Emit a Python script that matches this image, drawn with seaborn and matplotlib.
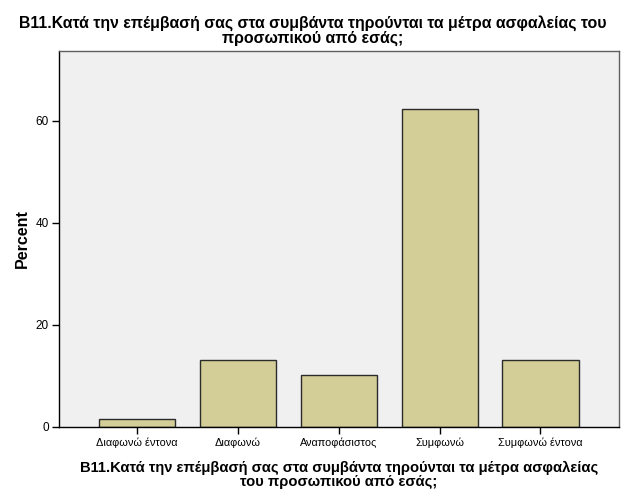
import pandas as pd
import matplotlib
matplotlib.use("Agg")
import matplotlib.pyplot as plt
import seaborn as sns

# --- data ---
categories = ["Διαφωνώ έντονα", "Διαφωνώ", "Αναποφάσιστος", "Συμφωνώ", "Συμφωνώ έντονα"]
percent = [1.6, 13.1, 10.2, 62.3, 13.1]
y_ticks = [0, 20, 40, 60]

title_text = "B11.Κατά την επέμβασή σας στα συμβάντα τηρούνται τα μέτρα ασφαλείας του\nπροσωπικού από εσάς;"
xlabel_text = "B11.Κατά την επέμβασή σας στα συμβάντα τηρούνται τα μέτρα ασφαλείας\nτου προσωπικού από εσάς;"

df = pd.DataFrame({"category": categories, "percent": percent})

sns.set_style("white")
plt.rcParams["font.family"] = ["Liberation Sans", "DejaVu Sans"]
plt.rcParams["text.color"] = "black"
plt.rcParams["axes.labelcolor"] = "black"
plt.rcParams["xtick.color"] = "black"
plt.rcParams["ytick.color"] = "black"

fig = plt.figure(figsize=(6.26, 5.01), dpi=100)
ax = fig.add_axes([0.0935, 0.1483, 0.8955, 0.7497])
ax.set_facecolor("#f0f0f0")

sns.barplot(data=df, x="category", y="percent", color="#d3ce98", saturation=1,
            width=0.755, edgecolor="#2b2b2b", linewidth=1.0, ax=ax)

ax.set_xlim(-0.78, 4.78)
ax.set_ylim(0, 73.7)
ax.set_yticks(y_ticks)
ax.set_yticklabels([str(t) for t in y_ticks], fontsize=8.5)
ax.tick_params(axis="x", labelsize=7.8, length=5, width=1, pad=3, bottom=True)
ax.tick_params(axis="y", length=5, width=1, pad=2, left=True)

for side in ["left", "bottom"]:
    ax.spines[side].set_color("black")
    ax.spines[side].set_linewidth(1.0)
for side in ["top", "right"]:
    ax.spines[side].set_color("#606060")
    ax.spines[side].set_linewidth(1.0)

ax.set_ylabel("Percent", fontsize=11.5, fontweight="bold", labelpad=4)
ax.set_xlabel(xlabel_text, fontsize=10.6, fontweight="bold", labelpad=9, linespacing=1.0)

fig.suptitle(title_text, x=0.5, y=0.97, fontsize=11.4, fontweight="bold", linespacing=1.0)

fig.savefig("out.png", dpi=100)
